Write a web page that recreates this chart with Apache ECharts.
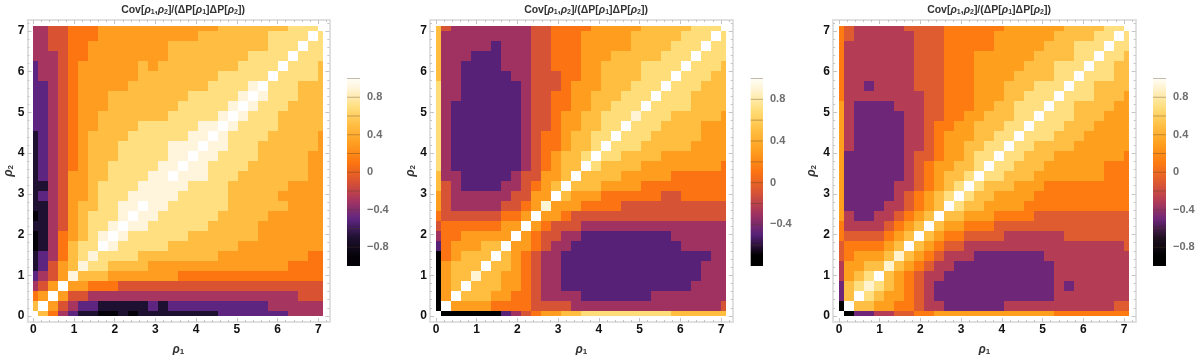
<!DOCTYPE html>
<html>
<head>
<meta charset="utf-8">
<title>Cov heatmaps</title>
<script src="https://cdn.jsdelivr.net/npm/echarts@6/dist/echarts.min.js"></script>
<style>
  html, body { margin: 0; padding: 0; background: #fff; }
  #main { width: 1200px; height: 355px; }
</style>
</head>
<body>
<div id="main"></div>
<script>
// rows are the upper triangle (row j starts at column j), written as band*count, the matrix is symmetric
var rowsLeft = [
  'A 7 5 3 2 1*2 0*2 1 0 1*8 2*7 3*4', 'A 6 4 3 2*2 1*5 2 1 2*10 3*6', 'A 6 4*2 3*21 4*3',
  'A 6*2 5*3 4*21', '9 7*3 6*7 5*15', '9 8*2 7*4 6*14 5*4', '9 8*4 7*8 6*9 5*2',
  'A 9 8*5 7*7 6*9', 'A 9 8*6 7*7 6*7', 'A 9*2 8*6 7*5 6*7', 'A 9*2 8*6 7*5 6*6',
  'A 9*2 8*6 7*6 6*4', '9*3 8*5 7*5 6*5', '9*3 8*4 7*6 6*4', 'A 9*3 8*3 7*7 6*2',
  'A 9*2 8*4 7*6 6*2', 'A 9*2 8*4 7*5 6*2', 'A 9*2 8*3 7*6 6', 'A 9 8*4 7*5 6',
  'A 9 8*4 7*5', 'A 9 8*3 7*5', 'A 9 8*3 7*4', 'A 9 8*3 7*3', 'A 8*3 7*3',
  'A 8*4 7', 'A 8*3 7', 'A 8*3', 'A 8*2', 'A 8', 'A'
];
var rowsMiddle = [
  'A 1*6 2 3 4 5 6*2 7*2 8*9 7*6', 'A 6*4 5*4 4*4 3*15 4', 'A 7*3 6*2 5*2 4 3*4 2*7 3*8',
  'A 7*3 6*2 5 4 3*2 2*13 3*4', '9 7*2 6*2 5 4 3*2 2*14 3*3', 'A 7*2 6 5 4 3*2 2*14 3*3',
  'A 7 6 5 4 3*2 2*15 3*2', 'A 6*2 5 4 3*2 2*11 3*5', 'A 6 5 4*2 3*2 2*9 3*6',
  'A 6 5 4*3 3*15', 'A 6*2 5 4*16', '9 6*3 5*4 4*11', 'A 7 6*3 5*6 4*2 5*5',
  'A 7*3 6*4 5*9', 'A 7*4 6*5 5*6', 'A 8 7*4 6*8 5', 'A 8*2 7*4 6*7', 'A 8*3 7*5 6*4',
  'A 8*3 7*5 6*3', 'A 8*3 7*4 6*3', '9 8*3 7*5 6', 'A 8*4 7*4', 'A 8*3 7*4', 'A 8*3 7*3',
  'A 8*3 7*2', 'A 8*3 7', 'A 8*3', 'A 8*2', 'A 8', 'A'
];
var rowsRight = [
  'A 0 2*2 3*2 4*2 5*2 6*12 5*8', 'A 7*2 6*2 5*2 4 3*2 2*6 3*11 4*2', 'A 8 7 6*2 5 4 3 2*12 3*8',
  '9 8 7 6 5 4 3 2*12 3 2 3*6', 'A 7 6 5 4 3*2 2*11 3*8', '9 7 6 5 4 3*2 2*10 3*8',
  '9 7 6 5 4 3*3 2*7 3*9', 'A 7 6 5 4*2 3*16 4', 'A 7 6 5*2 4*4 3*6 4*7',
  'A 7 6*2 5*3 4*14', 'A 7*2 6*3 5*4 4*10', 'A 8 7*2 6*4 5*11', 'A 8 7*2 6*4 5*10',
  'A 8 7*3 6*3 5*9', 'A 8*2 7*3 6*7 5*3', 'A 8*2 7*3 6*6 5*3', 'A 8*2 7*3 6*7 5',
  'A 8*2 7*4 6*6', 'A 8*3 7*3 6*5', 'A 8*3 7*3 6*4', 'A 8*3 7*3 6*3', 'A 8*2 7*4 6*2',
  'A 8*3 7*3 6', 'A 8*2 7*4', 'A 8*3 7*2', 'A 8*2 7*2', 'A 8*2 7', 'A 8*2', 'A 8', 'A'
];

// band index -> value, A is the diagonal
var bandValues = [-0.9, -0.7, -0.5, -0.3, -0.1, 0.1, 0.3, 0.5, 0.7, 0.9];
var bandEdges = [-1, -0.8, -0.6, -0.4, -0.2, 0, 0.2, 0.4, 0.6, 0.8, 1];
var diagonalValue = 1;

var paletteLeft = ['#040208', '#1e1030', '#5e2580', '#a63560', '#d95232', '#fc7510', '#fe9d20', '#ffbd42', '#ffdf80', '#fff5dc'];
var paletteMiddle = ['#000000', '#000000', '#572177', '#9f3260', '#d65336', '#fb7312', '#fe9d1e', '#ffbe40', '#ffde7a', '#fff5d5'];
var paletteRight = ['#000000', '#1e1020', '#6e2778', '#b43c55', '#df5b30', '#fe7b12', '#ff9f1e', '#ffbf45', '#ffdf80', '#fff3d0'];

var majorTicks = [0, 1, 2, 3, 4, 5, 6, 7];
var minorTicks = [0.2, 0.4, 0.6, 0.8, 1.2, 1.4, 1.6, 1.8, 2.2, 2.4, 2.6, 2.8, 3.2, 3.4, 3.6, 3.8,
  4.2, 4.4, 4.6, 4.8, 5.2, 5.4, 5.6, 5.8, 6.2, 6.4, 6.6, 6.8, 7.2];
var cellStep = 0.2456;
var rhoMax = 29 * cellStep;

var fontName = 'Liberation Sans';
var pxPerUnit = 40.71;

// one entry for each panel
var panels = [
  { rows: rowsLeft, palette: paletteLeft, frame: [27.5, 329.3], zero: 33.33, titleX: 178, bar: [347, 360], barMin: -1, barTicks: [-0.8, -0.4, 0, 0.4, 0.8], yNameGap: 13 },
  { rows: rowsMiddle, palette: paletteMiddle, frame: [430, 732.7], zero: 436, titleX: 581, bar: [750.7, 763], barMin: -0.8, barTicks: [-0.4, 0, 0.4, 0.8], yNameGap: 13 },
  { rows: rowsRight, palette: paletteRight, frame: [833, 1135.7], zero: 839, titleX: 984, bar: [1153, 1166], barMin: -1, barTicks: [-0.8, -0.4, 0, 0.4, 0.8], yNameGap: 15 }
];
var frameTop = 20, frameBottom = 322, zeroY = 316;
var barTop = 78.5, barBottom = 266;

function expandRow(text) {
  var out = [];
  text.split(' ').forEach(function(part) {
    var bits = part.split('*');
    var n = bits[1] ? parseInt(bits[1]) : 1;
    for (var k = 0; k < n; k++) out.push(bits[0] === 'A' ? diagonalValue : bandValues[+bits[0]]);
  });
  return out;
}

// [rho1, rho2, value]
function buildCells(rows) {
  var cells = [];
  rows.forEach(function(text, j) {
    expandRow(text).forEach(function(v, k) {
      var i = j + k;
      cells.push([i * cellStep, j * cellStep, v]);
      if (i !== j) cells.push([j * cellStep, i * cellStep, v]);
    });
  });
  return cells;
}

// cells on the border are cut in half at the ends of the data range
function renderCell(params, api) {
  var x = api.value(0), y = api.value(1), h = cellStep / 2;
  var a = api.coord([Math.max(0, x - h), Math.min(rhoMax, y + h)]);
  var b = api.coord([Math.min(rhoMax, x + h), Math.max(0, y - h)]);
  var left = Math.round(a[0]), top = Math.round(a[1]);
  return {
    type: 'rect',
    shape: { x: left, y: top, width: Math.round(b[0]) - left, height: Math.round(b[1]) - top },
    style: { fill: api.visual('color') },
    silent: true
  };
}

var option = {
  animation: false,
  backgroundColor: '#fff',
  title: [], grid: [], xAxis: [], yAxis: [], series: [], visualMap: []
};

var titleText = 'Cov[{r|ρ}{s|1},{r|ρ}{s|2}]/(ΔP[{r|ρ}{s|1}]ΔP[{r|ρ}{s|2}])';
var titleRich = {
  r: { fontStyle: 'italic', fontWeight: 'bold', fontSize: 10.5, fontFamily: fontName, color: '#333' },
  s: { fontSize: 7, fontWeight: 'bold', fontFamily: fontName, color: '#333', verticalAlign: 'bottom', lineHeight: 10, padding: [5, 0, 0, 0] }
};
var nameRich = {
  r: { fontStyle: 'italic', fontWeight: 'bold', fontSize: 12, fontFamily: fontName, color: '#333' },
  s: { fontSize: 8, fontWeight: 'bold', fontFamily: fontName, color: '#333', verticalAlign: 'bottom', lineHeight: 10, padding: [5, 0, 0, 0] }
};

function frameAxis(gridIndex, position, extent, values, tickLen, showLine) {
  return {
    type: 'value',
    gridIndex: gridIndex,
    position: position,
    min: extent[0],
    max: extent[1],
    axisLine: { show: showLine, onZero: false, lineStyle: { color: '#e0e0e0', width: 2 } },
    axisTick: { show: true, inside: true, length: tickLen, customValues: values, lineStyle: { color: '#c4c4c4', width: 1 } },
    axisLabel: { show: false },
    splitLine: { show: false }
  };
}

panels.forEach(function(p, n) {
  var xExtent = [(p.frame[0] - p.zero) / pxPerUnit, (p.frame[1] - p.zero) / pxPerUnit];
  var yExtent = [(zeroY - frameBottom) / pxPerUnit, (zeroY - frameTop) / pxPerUnit];
  var xStart = option.xAxis.length;
  var yStart = option.yAxis.length;

  option.grid.push({ outerBoundsMode: 'none', left: p.frame[0], top: frameTop, width: p.frame[1] - p.frame[0], height: frameBottom - frameTop });

  // main axes carry labels and names, the rest only draw the frame and tick marks
  var xMain = frameAxis(option.grid.length - 1, 'bottom', xExtent, majorTicks, 4, true);
  xMain.axisLabel = { show: true, customValues: majorTicks, margin: 2, color: '#111', fontSize: 12, fontWeight: 'bold', fontFamily: fontName };
  xMain.name = '{r|ρ}{s|1}';
  xMain.nameLocation = 'middle';
  xMain.nameGap = 22;
  xMain.nameMoveOverlap = false;
  xMain.nameTextStyle = { rich: nameRich };
  var yMain = frameAxis(option.grid.length - 1, 'left', yExtent, majorTicks, 4, true);
  yMain.axisLabel = { show: true, customValues: majorTicks, margin: 3, color: '#111', fontSize: 12, fontWeight: 'bold', fontFamily: fontName };
  yMain.name = '{r|ρ}{s|2}';
  yMain.nameLocation = 'middle';
  yMain.nameGap = p.yNameGap;
  yMain.nameMoveOverlap = false;
  yMain.nameTextStyle = { rich: nameRich };

  option.xAxis.push(xMain,
    frameAxis(option.grid.length - 1, 'top', xExtent, majorTicks, 4, true),
    frameAxis(option.grid.length - 1, 'bottom', xExtent, minorTicks, 2, false),
    frameAxis(option.grid.length - 1, 'top', xExtent, minorTicks, 2, false));
  option.yAxis.push(yMain,
    frameAxis(option.grid.length - 1, 'right', yExtent, majorTicks, 4, true),
    frameAxis(option.grid.length - 1, 'left', yExtent, minorTicks, 2, false),
    frameAxis(option.grid.length - 1, 'right', yExtent, minorTicks, 2, false));

  var seriesIndex = option.series.length;
  option.series.push({
    type: 'custom',
    xAxisIndex: xStart,
    yAxisIndex: yStart,
    renderItem: renderCell,
    encode: { x: 0, y: 1 },
    clip: false,
    data: buildCells(p.rows)
  });

  var pieces = p.palette.map(function(color, k) {
    return { gte: bandEdges[k], lt: bandEdges[k + 1], color: color };
  });
  pieces.push({ gte: diagonalValue, color: '#ffffff' });
  option.visualMap.push({ type: 'piecewise', show: false, seriesIndex: seriesIndex, dimension: 2, pieces: pieces });

  option.title.push({
    text: titleText,
    left: p.titleX,
    top: 0,
    textAlign: 'center',
    textStyle: { fontSize: 10.5, fontWeight: 'bold', fontFamily: fontName, color: '#333', rich: titleRich }
  });
});

// colour bars, one extra grid for each panel
panels.forEach(function(p) {
  var gridIndex = option.grid.length;
  option.grid.push({ outerBoundsMode: 'none', left: p.bar[0], top: barTop, width: p.bar[1] - p.bar[0], height: barBottom - barTop });
  option.xAxis.push({ type: 'value', gridIndex: gridIndex, min: 0, max: 1, show: false });
  option.yAxis.push({
    type: 'value',
    gridIndex: gridIndex,
    position: 'right',
    min: p.barMin,
    max: 1,
    axisLine: { show: false },
    axisTick: { show: false },
    splitLine: { show: false },
    axisLabel: {
      customValues: p.barTicks,
      margin: 7,
      color: '#6e6e6e',
      fontSize: 11,
      fontWeight: 'bold',
      fontFamily: fontName,
      formatter: function(v) { return v < 0 ? '\u2212' + Math.abs(v) : '' + v; }
    }
  });

  var stops = [];
  bandValues.forEach(function(v, k) {
    if (v > p.barMin) stops.push({ offset: (1 - v) / (1 - p.barMin), color: p.palette[k] });
  });
  stops.reverse();
  stops.unshift({ offset: 0, color: '#fffdf6' });
  var barFill = new echarts.graphic.LinearGradient(0, 0, 0, 1, stops);

  option.series.push({
    type: 'custom',
    xAxisIndex: option.xAxis.length - 1,
    yAxisIndex: option.yAxis.length - 1,
    clip: false,
    data: [[p.barMin, 1]],
    encode: { y: [0, 1] },
    renderItem: function(params, api) {
      var a = api.coord([0, api.value(1)]);
      var b = api.coord([1, api.value(0)]);
      return { type: 'rect', shape: { x: a[0], y: a[1], width: b[0] - a[0], height: b[1] - a[1] }, style: { fill: barFill }, silent: true };
    }
  });
  // thin darker lines on the band limits
  option.series.push({
    type: 'custom',
    xAxisIndex: option.xAxis.length - 1,
    yAxisIndex: option.yAxis.length - 1,
    clip: false,
    data: bandEdges.filter(function(e) { return e > p.barMin; }).map(function(e) { return [e]; }),
    encode: { y: 0 },
    renderItem: function(params, api) {
      var a = api.coord([0, api.value(0)]);
      var b = api.coord([1, api.value(0)]);
      return { type: 'line', shape: { x1: a[0], y1: a[1], x2: b[0], y2: b[1] }, style: { stroke: 'rgba(80,60,35,0.35)', lineWidth: 1 }, silent: true };
    }
  });
});

var myChart = echarts.init(document.getElementById('main'), null, { renderer: 'canvas' });
myChart.setOption(option);
</script>
</body>
</html>
